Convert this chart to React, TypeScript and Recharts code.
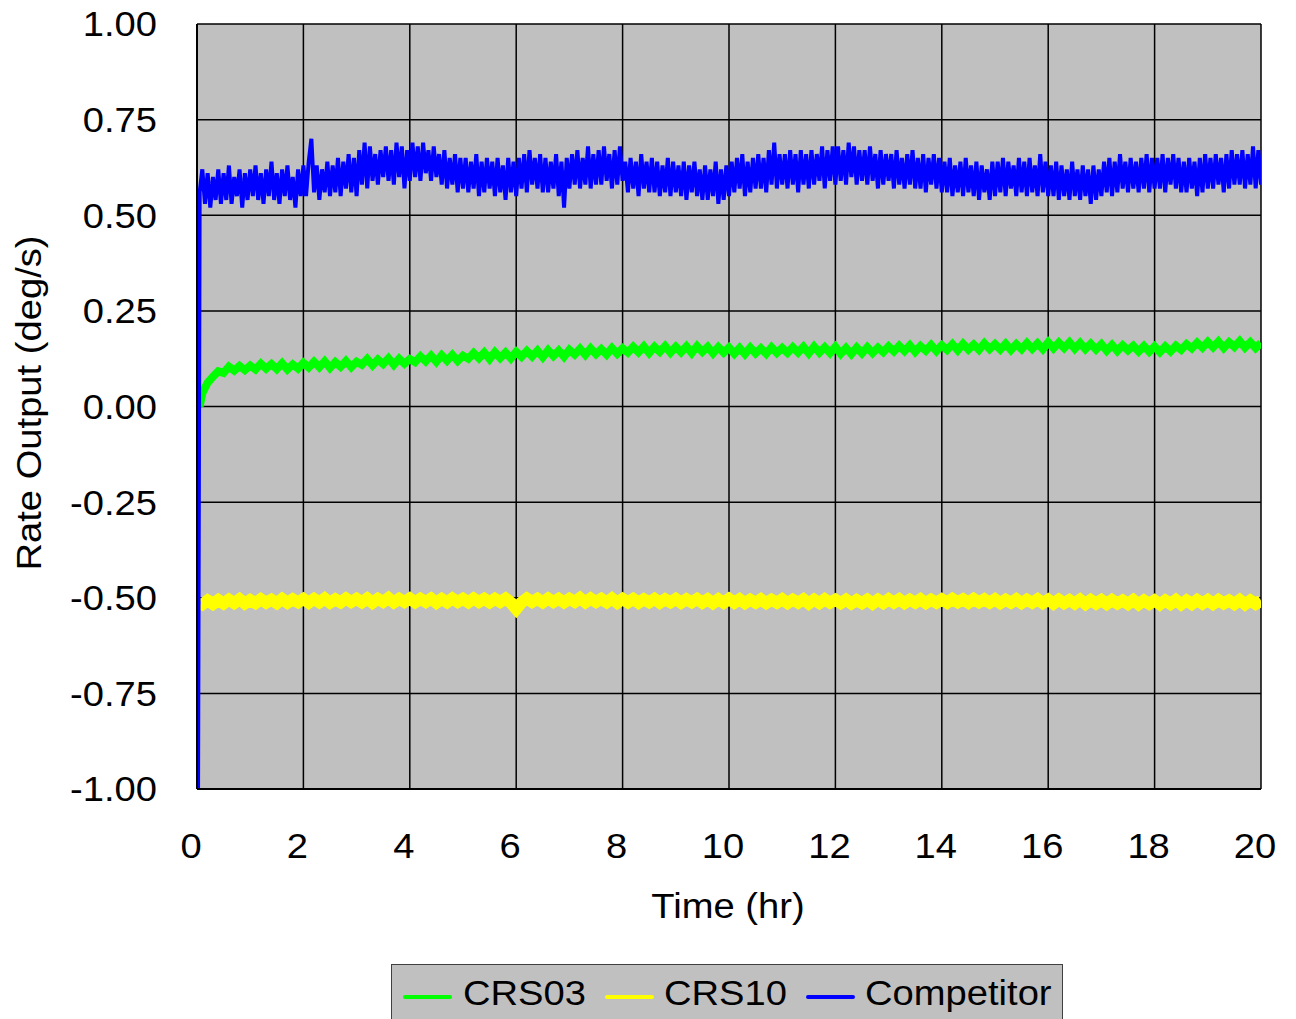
import React from "react";
import { LineChart, Line, XAxis, YAxis, CartesianGrid } from "recharts";

const FONT = "'Liberation Sans', Arial, sans-serif";
const STRETCH = 1.09; // the original text is set a little wide

const xTicks = [0, 2, 4, 6, 8, 10, 12, 14, 16, 18, 20];
const yTicks = [-1, -0.75, -0.5, -0.25, 0, 0.25, 0.5, 0.75, 1];

// Competitor: start-up sample, then every 0.05 h from 0.05 h
const blueStart = [{ t: 0.02, v: -1.0 }];
const blueValues = [
  0.56, 0.62, 0.53, 0.61, 0.52, 0.6, 0.54, 0.62, 0.53, 0.61,
  0.54, 0.63, 0.53, 0.6, 0.55, 0.62, 0.52, 0.61, 0.54, 0.62,
  0.55, 0.63, 0.54, 0.61, 0.53, 0.62, 0.55, 0.64, 0.54, 0.61,
  0.53, 0.62, 0.55, 0.63, 0.54, 0.6, 0.52, 0.62, 0.55, 0.63,
  0.55, 0.64, 0.7, 0.56, 0.63, 0.54, 0.62, 0.56, 0.64, 0.55,
  0.63, 0.56, 0.65, 0.55, 0.64, 0.57, 0.66, 0.56, 0.65, 0.55,
  0.67, 0.58, 0.69, 0.57, 0.68, 0.59, 0.66, 0.58, 0.67, 0.6,
  0.68, 0.59, 0.67, 0.58, 0.69, 0.6, 0.68, 0.57, 0.67, 0.59,
  0.69, 0.6, 0.68, 0.59, 0.69, 0.61, 0.67, 0.59, 0.68, 0.6,
  0.66, 0.58, 0.67, 0.57, 0.65, 0.58, 0.66, 0.56, 0.65, 0.57,
  0.65, 0.56, 0.64, 0.57, 0.66, 0.55, 0.64, 0.56, 0.65, 0.57,
  0.64, 0.55, 0.65, 0.56, 0.63, 0.54, 0.65, 0.56, 0.64, 0.55,
  0.65, 0.57, 0.66, 0.56, 0.67, 0.58, 0.65, 0.57, 0.66, 0.56,
  0.65, 0.56, 0.64, 0.57, 0.66, 0.55, 0.64, 0.52, 0.65, 0.57,
  0.66, 0.58, 0.67, 0.57, 0.65, 0.58, 0.68, 0.57, 0.66, 0.58,
  0.67, 0.58, 0.68, 0.59, 0.66, 0.57, 0.67, 0.58, 0.68, 0.59,
  0.64, 0.56, 0.65, 0.57, 0.64, 0.55, 0.66, 0.57, 0.64, 0.56,
  0.65, 0.56, 0.64, 0.55, 0.63, 0.56, 0.65, 0.55, 0.64, 0.56,
  0.63, 0.55, 0.64, 0.54, 0.63, 0.56, 0.64, 0.55, 0.62, 0.54,
  0.63, 0.54, 0.62, 0.55, 0.64, 0.53, 0.62, 0.54, 0.63, 0.55,
  0.64, 0.56, 0.65, 0.57, 0.66, 0.55, 0.64, 0.56, 0.65, 0.57,
  0.66, 0.57, 0.65, 0.56, 0.67, 0.58, 0.69, 0.57, 0.66, 0.58,
  0.66, 0.57, 0.67, 0.58, 0.66, 0.56, 0.67, 0.58, 0.66, 0.57,
  0.67, 0.58, 0.66, 0.59, 0.68, 0.57, 0.67, 0.59, 0.68, 0.58,
  0.68, 0.59, 0.67, 0.58, 0.69, 0.6, 0.68, 0.58, 0.67, 0.59,
  0.67, 0.58, 0.68, 0.59, 0.66, 0.57, 0.67, 0.58, 0.66, 0.59,
  0.66, 0.57, 0.67, 0.58, 0.65, 0.57, 0.66, 0.58, 0.67, 0.57,
  0.65, 0.57, 0.66, 0.56, 0.65, 0.58, 0.66, 0.57, 0.65, 0.56,
  0.64, 0.56, 0.65, 0.55, 0.63, 0.56, 0.64, 0.55, 0.65, 0.56,
  0.63, 0.55, 0.64, 0.54, 0.63, 0.56, 0.62, 0.54, 0.64, 0.55,
  0.64, 0.56, 0.65, 0.55, 0.64, 0.57, 0.63, 0.55, 0.65, 0.56,
  0.64, 0.55, 0.65, 0.56, 0.63, 0.55, 0.66, 0.56, 0.64, 0.55,
  0.63, 0.55, 0.64, 0.54, 0.63, 0.55, 0.62, 0.54, 0.64, 0.55,
  0.62, 0.54, 0.63, 0.55, 0.62, 0.53, 0.63, 0.54, 0.62, 0.55,
  0.64, 0.56, 0.65, 0.55, 0.64, 0.56, 0.66, 0.57, 0.64, 0.56,
  0.65, 0.57, 0.64, 0.56, 0.65, 0.57, 0.66, 0.56, 0.65, 0.57,
  0.65, 0.57, 0.66, 0.56, 0.65, 0.58, 0.66, 0.57, 0.65, 0.56,
  0.64, 0.56, 0.65, 0.57, 0.64, 0.55, 0.65, 0.56, 0.66, 0.57,
  0.65, 0.57, 0.66, 0.58, 0.65, 0.56, 0.66, 0.57, 0.67, 0.58,
  0.66, 0.58, 0.67, 0.57, 0.66, 0.58, 0.68, 0.57, 0.67, 0.58,
];

// CRS03: every 0.1 h from 0.1 h
const greenStart = [{ t: 0.05, v: 0.0 }];
const greenValues = [
  0.035, 0.062, 0.078, 0.092, 0.088, 0.104, 0.094, 0.106, 0.095, 0.107,
  0.097, 0.112, 0.099, 0.111, 0.098, 0.113, 0.097, 0.11, 0.099, 0.114,
  0.102, 0.117, 0.103, 0.118, 0.101, 0.116, 0.104, 0.119, 0.103, 0.117,
  0.109, 0.124, 0.108, 0.123, 0.111, 0.126, 0.109, 0.125, 0.112, 0.124,
  0.116, 0.131, 0.118, 0.133, 0.117, 0.134, 0.12, 0.135, 0.119, 0.133,
  0.125, 0.14, 0.126, 0.141, 0.124, 0.142, 0.127, 0.141, 0.126, 0.143,
  0.13, 0.145, 0.131, 0.146, 0.129, 0.147, 0.132, 0.146, 0.13, 0.148,
  0.136, 0.151, 0.135, 0.152, 0.137, 0.15, 0.136, 0.153, 0.138, 0.152,
  0.141, 0.156, 0.142, 0.157, 0.14, 0.156, 0.143, 0.158, 0.141, 0.156,
  0.142, 0.157, 0.14, 0.158, 0.143, 0.156, 0.139, 0.155, 0.141, 0.154,
  0.138, 0.153, 0.137, 0.154, 0.139, 0.152, 0.138, 0.155, 0.14, 0.153,
  0.14, 0.155, 0.141, 0.156, 0.139, 0.157, 0.141, 0.155, 0.14, 0.156,
  0.138, 0.153, 0.137, 0.154, 0.139, 0.155, 0.14, 0.154, 0.142, 0.157,
  0.144, 0.159, 0.145, 0.16, 0.143, 0.158, 0.146, 0.161, 0.145, 0.16,
  0.148, 0.163, 0.147, 0.164, 0.149, 0.162, 0.148, 0.165, 0.15, 0.163,
  0.149, 0.164, 0.148, 0.163, 0.15, 0.166, 0.151, 0.165, 0.15, 0.168,
  0.152, 0.167, 0.153, 0.168, 0.151, 0.166, 0.15, 0.164, 0.149, 0.163,
  0.146, 0.161, 0.145, 0.16, 0.147, 0.159, 0.144, 0.158, 0.143, 0.157,
  0.142, 0.157, 0.144, 0.159, 0.148, 0.163, 0.152, 0.167, 0.154, 0.169,
  0.155, 0.17, 0.153, 0.168, 0.156, 0.171, 0.154, 0.168, 0.153, 0.166,
];

// CRS10: every 0.1 h from 0.1 h
const yellowStart = [{ t: 0.07, v: -0.515 }];
const yellowValues = [
  -0.517, -0.507, -0.516, -0.506, -0.515, -0.505, -0.514, -0.504, -0.515, -0.506,
  -0.514, -0.504, -0.513, -0.505, -0.514, -0.503, -0.513, -0.504, -0.512, -0.503,
  -0.513, -0.503, -0.512, -0.502, -0.513, -0.504, -0.512, -0.502, -0.511, -0.503,
  -0.512, -0.502, -0.513, -0.503, -0.511, -0.501, -0.512, -0.503, -0.511, -0.502,
  -0.512, -0.503, -0.511, -0.502, -0.513, -0.503, -0.512, -0.502, -0.511, -0.503,
  -0.512, -0.502, -0.511, -0.503, -0.512, -0.503, -0.511, -0.502, -0.513, -0.529,
  -0.512, -0.502, -0.511, -0.503, -0.512, -0.502, -0.511, -0.503, -0.512, -0.503,
  -0.511, -0.501, -0.512, -0.502, -0.511, -0.503, -0.512, -0.502, -0.513, -0.503,
  -0.512, -0.503, -0.513, -0.504, -0.512, -0.503, -0.513, -0.504, -0.512, -0.503,
  -0.513, -0.504, -0.512, -0.503, -0.513, -0.504, -0.514, -0.504, -0.513, -0.503,
  -0.513, -0.504, -0.514, -0.505, -0.513, -0.504, -0.514, -0.505, -0.513, -0.504,
  -0.514, -0.505, -0.513, -0.504, -0.515, -0.505, -0.514, -0.504, -0.513, -0.505,
  -0.514, -0.505, -0.515, -0.506, -0.514, -0.505, -0.515, -0.505, -0.514, -0.504,
  -0.513, -0.504, -0.514, -0.505, -0.513, -0.504, -0.514, -0.505, -0.513, -0.504,
  -0.513, -0.503, -0.512, -0.504, -0.513, -0.503, -0.512, -0.504, -0.513, -0.504,
  -0.514, -0.505, -0.513, -0.504, -0.514, -0.505, -0.513, -0.504, -0.514, -0.505,
  -0.515, -0.505, -0.514, -0.506, -0.515, -0.505, -0.516, -0.506, -0.515, -0.506,
  -0.516, -0.506, -0.515, -0.507, -0.516, -0.506, -0.517, -0.507, -0.516, -0.507,
  -0.517, -0.507, -0.516, -0.506, -0.517, -0.507, -0.516, -0.506, -0.515, -0.506,
  -0.516, -0.506, -0.515, -0.507, -0.516, -0.506, -0.517, -0.507, -0.516, -0.508,
];

const toSeries = (start: { t: number; v: number }[], values: number[], step: number) => [
  ...start,
  ...values.map((v, i) => ({ t: Math.round((i + 1) * step * 1000) / 1000, v })),
];

const blueData = toSeries(blueStart, blueValues, 0.05);
const greenData = toSeries(greenStart, greenValues, 0.1);
const yellowData = toSeries(yellowStart, yellowValues, 0.1);

const stretchAt = (x: number, y: number) =>
  `translate(${x},${y}) scale(${STRETCH},1) translate(${-x},${-y})`;

const XTick = (props: any) => {
  const { x, y, payload } = props;
  const cx = x - 6;
  return (
    <text x={cx} y={y} dy="0.71em" textAnchor="middle" fontSize={35} fontFamily={FONT} fill="#000" transform={stretchAt(cx, y)}>
      {payload.value}
    </text>
  );
};

const YTick = (props: any) => {
  const { x, y, payload } = props;
  return (
    <text x={x} y={y} dy="0.355em" textAnchor="end" fontSize={35} fontFamily={FONT} fill="#000" transform={stretchAt(x, y)}>
      {Number(payload.value).toFixed(2)}
    </text>
  );
};

const legendItems = [
  { name: "CRS03", color: "#00FF00", lineLeft: 11, textLeft: 71 },
  { name: "CRS10", color: "#FFFF00", lineLeft: 213, textLeft: 272 },
  { name: "Competitor", color: "#0000FF", lineLeft: 414, textLeft: 473 },
];

export default function App() {
  // shifted up by the body margin so the top tick label has room inside the svg
  return (
    <div style={{ position: "relative", top: -8, width: 1280, height: 1019, fontFamily: FONT }}>
      <LineChart width={1280} height={869} margin={{ top: 24, right: 27, left: 0, bottom: 0 }}>
        <CartesianGrid fill="#C0C0C0" stroke="#000" strokeWidth={1.5} />
        <XAxis
          type="number"
          dataKey="t"
          domain={[0, 20]}
          ticks={xTicks}
          height={80}
          tickSize={0}
          tickMargin={44}
          tickLine={false}
          tick={<XTick />}
          axisLine={{ stroke: "#000", strokeWidth: 2 }}
          allowDataOverflow
        />
        <XAxis
          xAxisId="top"
          orientation="top"
          type="number"
          domain={[0, 20]}
          height={0}
          tick={false}
          tickLine={false}
          axisLine={{ stroke: "#000", strokeWidth: 2 }}
        />
        <YAxis
          type="number"
          domain={[-1, 1]}
          ticks={yTicks}
          width={189}
          tickSize={0}
          tickMargin={40}
          tickLine={false}
          tick={<YTick />}
          axisLine={{ stroke: "#000", strokeWidth: 2 }}
          allowDataOverflow
        />
        <YAxis
          yAxisId="right"
          orientation="right"
          type="number"
          domain={[-1, 1]}
          width={0}
          tick={false}
          tickLine={false}
          axisLine={{ stroke: "#000", strokeWidth: 2 }}
        />
        <Line data={greenData} dataKey="v" name="CRS03" stroke="#00FF00" strokeWidth={8} dot={false} isAnimationActive={false} />
        <Line data={yellowData} dataKey="v" name="CRS10" stroke="#FFFF00" strokeWidth={12} dot={false} isAnimationActive={false} />
        <Line data={blueData} dataKey="v" name="Competitor" stroke="#0000FF" strokeWidth={4} dot={false} isAnimationActive={false} />
      </LineChart>

      <div
        style={{
          position: "absolute",
          left: 19.5,
          top: 402.5,
          transform: `translate(-50%, -50%) rotate(-90deg) scaleX(${STRETCH})`,
          fontSize: 35,
          lineHeight: "35px",
          whiteSpace: "nowrap",
        }}
      >
        Rate Output (deg/s)
      </div>
      <div
        style={{
          position: "absolute",
          left: 720,
          top: 888,
          transform: `translateX(-50%) scaleX(${STRETCH})`,
          fontSize: 35,
          lineHeight: "35px",
          whiteSpace: "nowrap",
        }}
      >
        Time (hr)
      </div>

      <div
        style={{
          position: "absolute",
          left: 383,
          top: 964,
          width: 670,
          height: 64,
          background: "#C0C0C0",
          border: "1px solid #404040",
        }}
      >
        {legendItems.map((it) => (
          <React.Fragment key={it.name}>
            <div
              style={{
                position: "absolute",
                left: it.lineLeft,
                top: 30,
                width: 49,
                height: 4,
                borderRadius: 2,
                background: it.color,
              }}
            />
            <span
              style={{
                position: "absolute",
                left: it.textLeft,
                top: 10,
                fontSize: 35,
                lineHeight: "35px",
                whiteSpace: "nowrap",
                transform: `scaleX(${STRETCH})`,
                transformOrigin: "left center",
              }}
            >
              {it.name}
            </span>
          </React.Fragment>
        ))}
      </div>
    </div>
  );
}
